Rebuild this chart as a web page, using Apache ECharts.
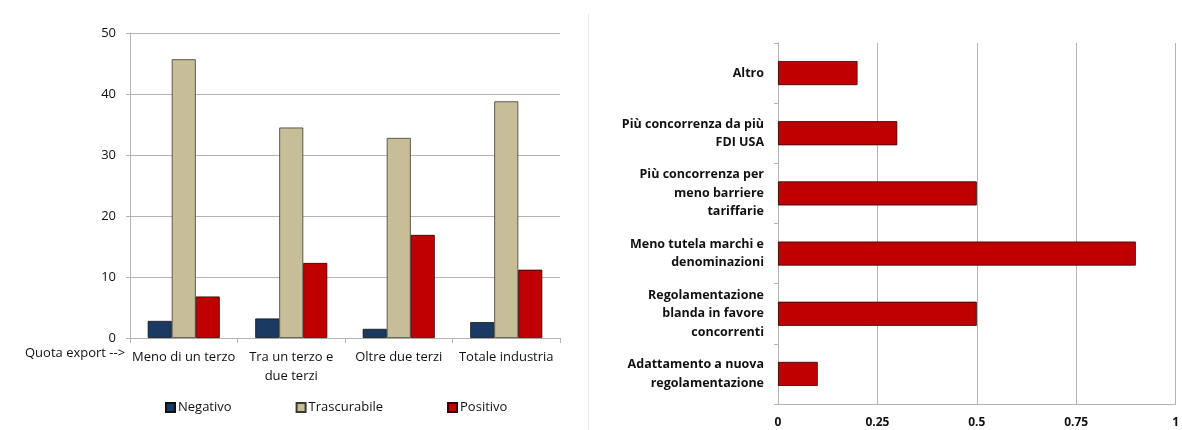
<!DOCTYPE html>
<html lang="en">
    <head>
        <meta charset="UTF-8" />
        <title>Quota export e impatti</title>
        <script src="https://cdn.jsdelivr.net/npm/echarts@6.0.0/dist/echarts.min.js"></script>
        <style>
            body,
            html {
                margin: 0;
                padding: 0;
                width: 100%;
                height: 100%;
                overflow: hidden;
                background-color: #fff;
            }
            #main {
                width: 1182px;
                height: 430px;
            }
        </style>
    </head>
    <body>
        <div id="main"></div>
        <script>
            // left chart: share of exports
            const exportCategories = ["Meno di un terzo", "Tra un terzo e\ndue terzi", "Oltre due terzi", "Totale industria"]
            const negativo = [2.8, 3.2, 1.5, 2.6]
            const trascurabile = [45.7, 34.5, 32.8, 38.8]
            const positivo = [6.8, 12.3, 16.9, 11.2]
            const leftTicks = [0, 10, 20, 30, 40, 50]

            // right chart: reasons
            const reasons = [
                "Altro",
                "Più concorrenza da più\nFDI USA",
                "Più concorrenza per\nmeno barriere\ntariffarie",
                "Meno tutela marchi e\ndenominazioni",
                "Regolamentazione\nblanda in favore\nconcorrenti",
                "Adattamento a nuova\nregolamentazione",
            ]
            const reasonValues = [0.2, 0.3, 0.5, 0.9, 0.5, 0.1]
            const rightTicks = [0, 0.25, 0.5, 0.75, 1]

            const font = "'Open Sans', sans-serif"
            const textColor = "#111"
            const gridColor = "#b4b4b4"

            const chart = echarts.init(document.getElementById("main"))

            const option = {
                animation: false,
                textStyle: { fontFamily: font },
                legend: {
                    data: ["Negativo", "Trascurabile", "Positivo"],
                    left: 160,
                    top: 396,
                    itemWidth: 9,
                    itemHeight: 9,
                    itemGap: 64,
                    icon: "rect",
                    textStyle: { fontFamily: font, fontSize: 13, color: textColor, padding: [0, 0, 0, -2] },
                },
                grid: [
                    { left: 130, right: 622, top: 33, bottom: 92 },
                    { left: 778, right: 5, top: 43, bottom: 26 },
                ],
                xAxis: [
                    {
                        gridIndex: 0,
                        type: "category",
                        data: exportCategories,
                        axisLine: { lineStyle: { color: gridColor } },
                        axisTick: { show: true, length: 5, lineStyle: { color: gridColor } },
                        axisLabel: {
                            color: textColor,
                            fontSize: 13,
                            margin: 10,
                            lineHeight: 19,
                            interval: 0,
                        },
                    },
                    {
                        gridIndex: 1,
                        type: "value",
                        min: 0,
                        max: 1,
                        interval: 0.25,
                        axisLine: { show: true, lineStyle: { color: gridColor } },
                        axisTick: { show: false },
                        splitLine: { lineStyle: { color: gridColor } },
                        axisLabel: {
                            color: textColor,
                            fontSize: 12,
                            fontWeight: "bold",
                            margin: 13,
                            formatter: (v) => (rightTicks.includes(v) ? String(v) : ""),
                        },
                    },
                ],
                yAxis: [
                    {
                        gridIndex: 0,
                        type: "value",
                        min: 0,
                        max: 50,
                        interval: 10,
                        axisLine: { show: true, lineStyle: { color: gridColor } },
                        axisTick: { show: true, length: 4, lineStyle: { color: gridColor } },
                        splitLine: { lineStyle: { color: gridColor } },
                        axisLabel: {
                            color: textColor,
                            fontSize: 13,
                            margin: 14,
                            formatter: (v) => (leftTicks.includes(v) ? String(v) : ""),
                        },
                    },
                    {
                        gridIndex: 1,
                        type: "category",
                        data: reasons,
                        inverse: true,
                        axisLine: { lineStyle: { color: gridColor } },
                        axisTick: { show: true, length: 4, lineStyle: { color: gridColor } },
                        axisLabel: {
                            color: textColor,
                            fontSize: 12.5,
                            fontWeight: "bold",
                            align: "right",
                            margin: 14,
                            lineHeight: 18.5,
                            interval: 0,
                        },
                    },
                ],
                series: [
                    {
                        name: "Negativo",
                        type: "bar",
                        xAxisIndex: 0,
                        yAxisIndex: 0,
                        data: negativo,
                        barGap: "0%",
                        barCategoryGap: "33%",
                        itemStyle: { color: "#1b3a63", borderColor: "#111", borderWidth: 0.8 },
                    },
                    {
                        name: "Trascurabile",
                        type: "bar",
                        xAxisIndex: 0,
                        yAxisIndex: 0,
                        data: trascurabile,
                        itemStyle: { color: "#c5be98", borderColor: "#3c3a30", borderWidth: 0.8 },
                    },
                    {
                        name: "Positivo",
                        type: "bar",
                        xAxisIndex: 0,
                        yAxisIndex: 0,
                        data: positivo,
                        itemStyle: { color: "#c00000", borderColor: "#2a0000", borderWidth: 0.8 },
                    },
                    {
                        name: "Motivi",
                        type: "bar",
                        xAxisIndex: 1,
                        yAxisIndex: 1,
                        data: reasonValues,
                        barCategoryGap: "60%",
                        itemStyle: { color: "#c00000", borderColor: "#2a0000", borderWidth: 0.8 },
                    },
                ],
                graphic: [
                    {
                        type: "text",
                        left: 25,
                        top: 347,
                        style: { text: "Quota export -->", font: "13px " + font, fill: textColor },
                    },
                    {
                        type: "line",
                        shape: { x1: 588.5, y1: 14, x2: 588.5, y2: 430 },
                        style: { stroke: "#e6e6e6", lineWidth: 1 },
                    },
                ],
            }

            chart.setOption(option)
        </script>
    </body>
</html>
